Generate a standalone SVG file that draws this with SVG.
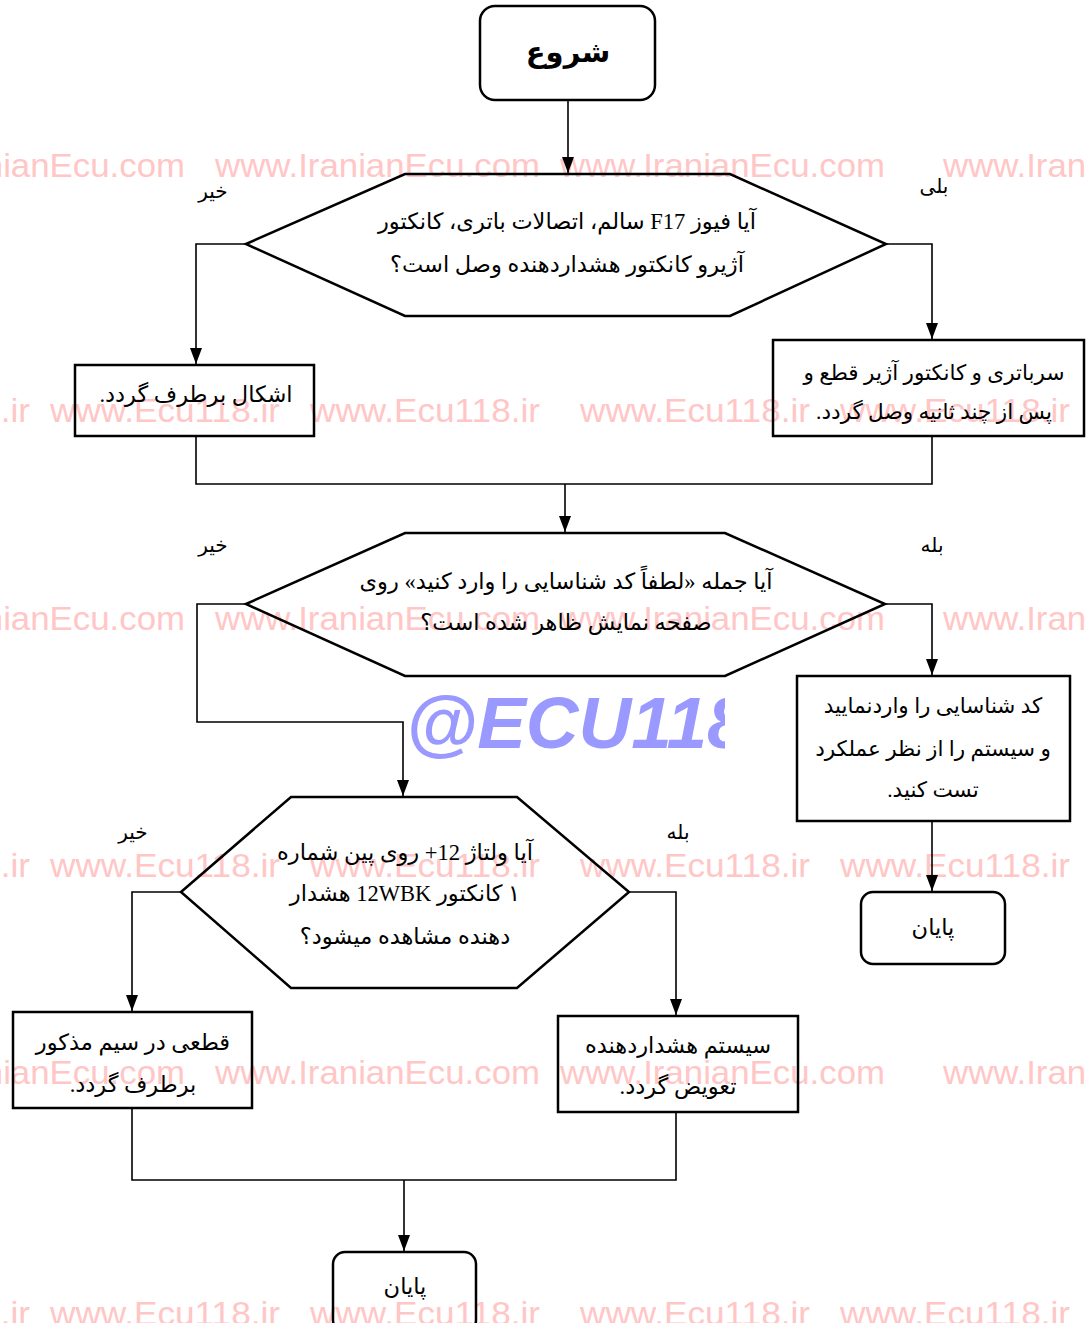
<svg xmlns="http://www.w3.org/2000/svg" width="1086" height="1323" viewBox="0 0 1086 1323">
<style>
.node{fill:none;stroke:#000;stroke-width:2.5}
.conn{fill:none;stroke:#000;stroke-width:1.6}
.t{font-family:"Liberation Serif","DejaVu Sans",serif;font-size:22.5px;fill:#000;text-anchor:middle;direction:rtl;unicode-bidi:embed}
.lbl{font-family:"Liberation Serif","DejaVu Sans",serif;font-size:20px;fill:#000;text-anchor:middle;direction:rtl;unicode-bidi:embed}
.wm{font-family:"Liberation Sans",Arial,sans-serif;font-size:34px;fill:#ffc6c6}
</style>
<defs>
<marker id="arr" markerWidth="16" markerHeight="12" refX="16" refY="6" orient="auto" markerUnits="userSpaceOnUse" viewBox="0 0 16 12">
<path d="M0,0 L16,6 L0,12 Z" fill="#000"/>
</marker>
<clipPath id="ecuclip"><rect x="400" y="680" width="325" height="80"/></clipPath>
</defs>
<rect width="1086" height="1323" fill="#fff"/>

<g id="watermarks">
<text class="wm" x="-140" y="177" textLength="325" lengthAdjust="spacingAndGlyphs">www.IranianEcu.com</text>
<text class="wm" x="215" y="177" textLength="325" lengthAdjust="spacingAndGlyphs">www.IranianEcu.com</text>
<text class="wm" x="560" y="177" textLength="325" lengthAdjust="spacingAndGlyphs">www.IranianEcu.com</text>
<text class="wm" x="943" y="177" textLength="325" lengthAdjust="spacingAndGlyphs">www.IranianEcu.com</text>
<text class="wm" x="-200" y="422" textLength="230" lengthAdjust="spacingAndGlyphs">www.Ecu118.ir</text>
<text class="wm" x="50" y="422" textLength="230" lengthAdjust="spacingAndGlyphs">www.Ecu118.ir</text>
<text class="wm" x="310" y="422" textLength="230" lengthAdjust="spacingAndGlyphs">www.Ecu118.ir</text>
<text class="wm" x="580" y="422" textLength="230" lengthAdjust="spacingAndGlyphs">www.Ecu118.ir</text>
<text class="wm" x="840" y="422" textLength="230" lengthAdjust="spacingAndGlyphs">www.Ecu118.ir</text>
<text class="wm" x="-140" y="630" textLength="325" lengthAdjust="spacingAndGlyphs">www.IranianEcu.com</text>
<text class="wm" x="215" y="630" textLength="325" lengthAdjust="spacingAndGlyphs">www.IranianEcu.com</text>
<text class="wm" x="560" y="630" textLength="325" lengthAdjust="spacingAndGlyphs">www.IranianEcu.com</text>
<text class="wm" x="943" y="630" textLength="325" lengthAdjust="spacingAndGlyphs">www.IranianEcu.com</text>
<text class="wm" x="-200" y="877" textLength="230" lengthAdjust="spacingAndGlyphs">www.Ecu118.ir</text>
<text class="wm" x="50" y="877" textLength="230" lengthAdjust="spacingAndGlyphs">www.Ecu118.ir</text>
<text class="wm" x="310" y="877" textLength="230" lengthAdjust="spacingAndGlyphs">www.Ecu118.ir</text>
<text class="wm" x="580" y="877" textLength="230" lengthAdjust="spacingAndGlyphs">www.Ecu118.ir</text>
<text class="wm" x="840" y="877" textLength="230" lengthAdjust="spacingAndGlyphs">www.Ecu118.ir</text>
<text class="wm" x="-140" y="1084" textLength="325" lengthAdjust="spacingAndGlyphs">www.IranianEcu.com</text>
<text class="wm" x="215" y="1084" textLength="325" lengthAdjust="spacingAndGlyphs">www.IranianEcu.com</text>
<text class="wm" x="560" y="1084" textLength="325" lengthAdjust="spacingAndGlyphs">www.IranianEcu.com</text>
<text class="wm" x="943" y="1084" textLength="325" lengthAdjust="spacingAndGlyphs">www.IranianEcu.com</text>
<text class="wm" x="-200" y="1325" textLength="230" lengthAdjust="spacingAndGlyphs">www.Ecu118.ir</text>
<text class="wm" x="50" y="1325" textLength="230" lengthAdjust="spacingAndGlyphs">www.Ecu118.ir</text>
<text class="wm" x="310" y="1325" textLength="230" lengthAdjust="spacingAndGlyphs">www.Ecu118.ir</text>
<text class="wm" x="580" y="1325" textLength="230" lengthAdjust="spacingAndGlyphs">www.Ecu118.ir</text>
<text class="wm" x="840" y="1325" textLength="230" lengthAdjust="spacingAndGlyphs">www.Ecu118.ir</text>
<g clip-path="url(#ecuclip)">
<text x="406" y="748" style="font-family:'Liberation Sans',Arial,sans-serif;font-size:73px;font-weight:bold;font-style:italic;fill:#9999ff">@ECU118</text>
</g>
</g>

<g id="start">
<rect class="node" x="480" y="6" width="175" height="94" rx="15"/>
<text class="t" x="568" y="62" style="font-size:29px;font-weight:bold">شروع</text>
</g>

<g id="decision1">
<polygon class="node" points="246,244 405,174 730,174 886,244 730,316 405,316"/>
<text class="t" x="567" y="229">آیا فیوز F17 سالم، اتصالات باتری، کانکتور</text>
<text class="t" x="567" y="272">آژیرو کانکتور هشداردهنده وصل است؟</text>
</g>

<g id="fix1">
<rect class="node" x="75" y="365" width="239" height="71"/>
<text class="t" x="196" y="402">اشکال برطرف گردد.</text>
</g>

<g id="reconnect">
<rect class="node" x="773" y="340" width="311" height="96"/>
<text class="t" x="934" y="380" style="font-size:21.5px">سرباتری و کانکتور آژیر قطع و</text>
<text class="t" x="934" y="419" style="font-size:21.5px">پس از چند ثانیه وصل گردد.</text>
</g>

<g id="decision2">
<polygon class="node" points="246,604 405,533 725,533 885,604 725,676 405,676"/>
<text class="t" x="566" y="589">آیا جمله «لطفاً کد شناسایی را وارد کنید» روی</text>
<text class="t" x="566" y="630">صفحه نمایش ظاهر شده است؟</text>
</g>

<g id="entercode">
<rect class="node" x="797" y="676" width="273" height="145"/>
<text class="t" x="933" y="713" style="font-size:21.5px">کد شناسایی را واردنمایید</text>
<text class="t" x="933" y="756" style="font-size:21.5px">و سیستم را از نظر عملکرد</text>
<text class="t" x="933" y="797" style="font-size:21.5px">تست کنید.</text>
</g>

<g id="end1">
<rect class="node" x="861" y="892" width="144" height="72" rx="12"/>
<text class="t" x="933" y="935">پایان</text>
</g>

<g id="decision3">
<polygon class="node" points="181,892 291,797 517,797 629,892 517,988 291,988"/>
<text class="t" x="405" y="860">آیا ولتاژ 12+ روی پین شماره</text>
<text class="t" x="405" y="901">۱ کانکتور 12WBK هشدار</text>
<text class="t" x="405" y="944">دهنده مشاهده میشود؟</text>
</g>

<g id="fixwire">
<rect class="node" x="13" y="1012" width="239" height="96"/>
<text class="t" x="133" y="1050">قطعی در سیم مذکور</text>
<text class="t" x="133" y="1092">برطرف گردد.</text>
</g>

<g id="replace">
<rect class="node" x="558" y="1016" width="240" height="96"/>
<text class="t" x="678" y="1053">سیستم هشداردهنده</text>
<text class="t" x="678" y="1094">تعویض گردد.</text>
</g>

<g id="end2">
<rect class="node" x="333" y="1252" width="143" height="80" rx="12"/>
<text class="t" x="405" y="1294">پایان</text>
</g>

<g id="connectors">
<path class="conn" d="M568,100 V173" marker-end="url(#arr)"/>
<path class="conn" d="M246,244 H196 V364" marker-end="url(#arr)"/>
<path class="conn" d="M886,244 H932 V339" marker-end="url(#arr)"/>
<path class="conn" d="M196,436 V484 H932 V436"/>
<path class="conn" d="M565,484 V532" marker-end="url(#arr)"/>
<path class="conn" d="M885,604 H932 V675" marker-end="url(#arr)"/>
<path class="conn" d="M932,821 V891" marker-end="url(#arr)"/>
<path class="conn" d="M246,604 H197 V722 H403 V796" marker-end="url(#arr)"/>
<path class="conn" d="M181,892 H132 V1011" marker-end="url(#arr)"/>
<path class="conn" d="M629,892 H676 V1015" marker-end="url(#arr)"/>
<path class="conn" d="M132,1108 V1180 H676 V1112"/>
<path class="conn" d="M404,1180 V1251" marker-end="url(#arr)"/>
</g>

<g id="labels">
<text class="lbl" x="213" y="198">خیر</text>
<text class="lbl" x="934" y="193">بلی</text>
<text class="lbl" x="213" y="552">خیر</text>
<text class="lbl" x="932" y="552">بله</text>
<text class="lbl" x="133" y="839">خیر</text>
<text class="lbl" x="678" y="839">بله</text>
</g>
</svg>
